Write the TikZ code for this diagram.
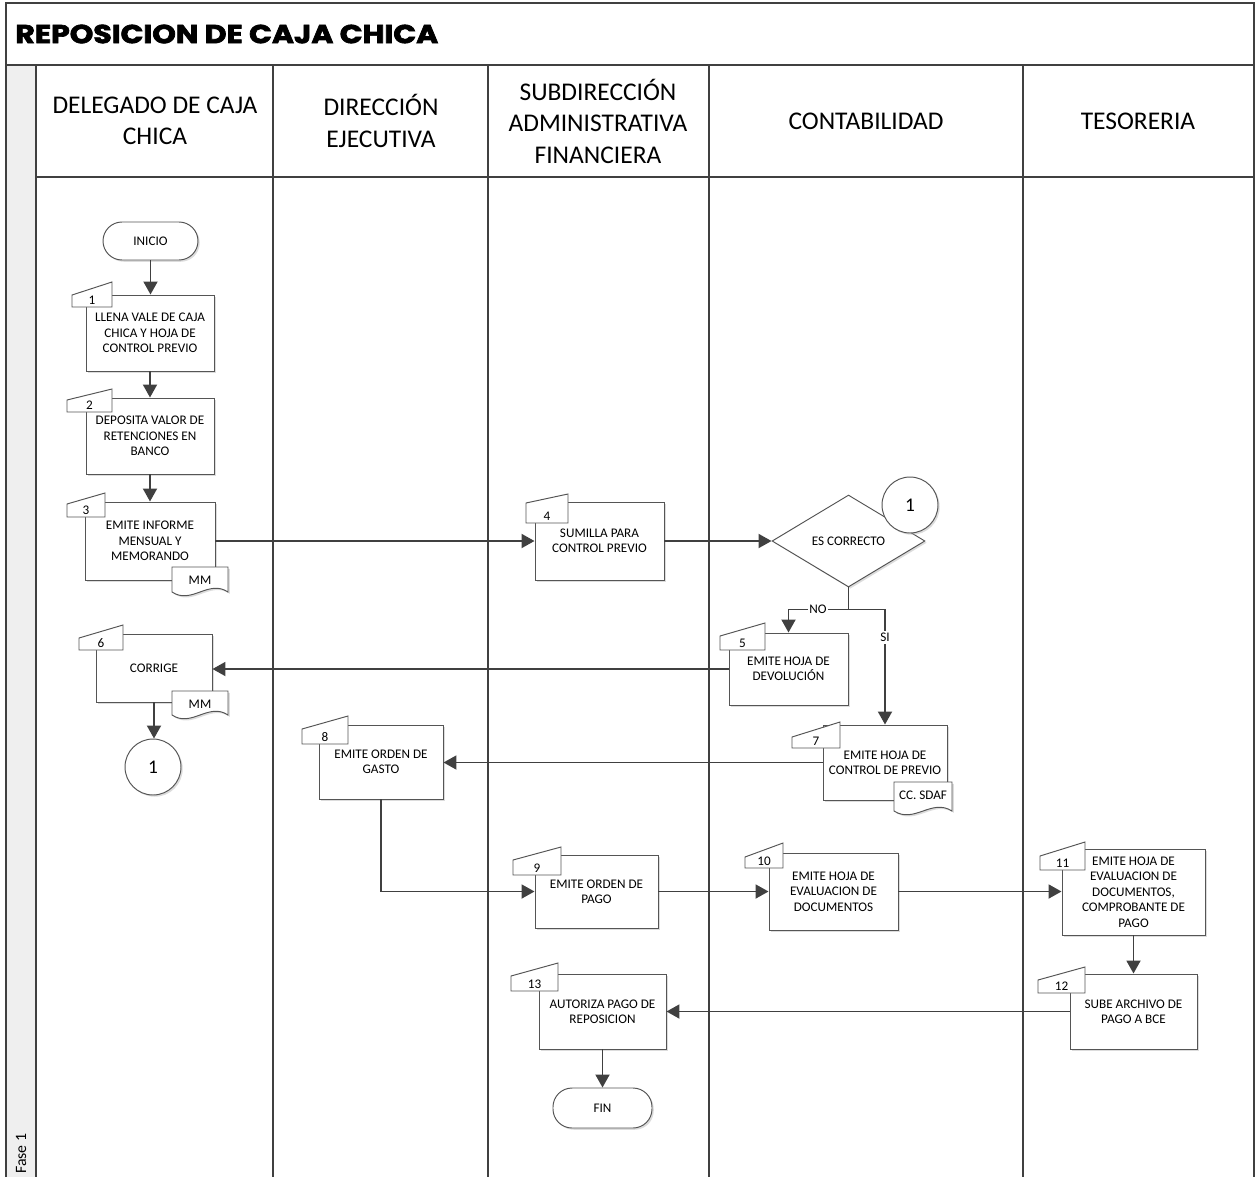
\documentclass[tikz,border=0pt]{standalone}
\usepackage{graphicx}
\usepackage{fontspec}
\setmainfont{Carlito}
\newfontfamily\titlefont{Poppins}[BoldFeatures={FakeBold=2.5}]
\usetikzlibrary{arrows.meta,shapes.geometric,shadows,calc}
\definecolor{linegray}{HTML}{404040}
\definecolor{boxgray}{HTML}{555555}
\definecolor{fasegray}{HTML}{EFEFEF}

% rectangular node from its corners: style, name, left, top, right, bottom, text
\newcommand{\boxnode}[7]{%
  \node[#1, minimum width={(#5-#3)*0.02cm}, minimum height={(#6-#4)*0.02cm}]
    (#2) at ({(#3+#5)/2},{(#4+#6)/2}) {#7};}
% numbered tab on the top-left corner of a step: name, x1, x2, y top-left, y top-right, y bottom, number
\newcommand{\steptab}[7]{%
  \draw[tabline] (#2,#4) -- (#3,#5) -- (#3,#6) -- (#2,#6) -- cycle;
  \node[tabnum] (#1) at ({(#2+#3)/2},{#6-6.5}) {#7};}
% document symbol with wavy bottom: name, left, top, right, bottom, text
\newcommand{\docnote}[6]{%
  \draw[docline] (#2,#3) -- (#4,#3) -- (#4,#5)
    .. controls ({#4-0.35*(#4-#2)},{#5-13}) and ({#2+0.35*(#4-#2)},{#5+13}) .. (#2,#5) -- cycle;
  \node[doctext] (#1) at ({(#2+#4)/2},{#3+13}) {#6};}

\begin{document}
\begin{tikzpicture}[x=0.02cm,y=-0.02cm,
  lane/.style={draw=linegray, line width=0.8pt},
  header/.style={align=center, font=\fontsize{14.5}{17.9}\selectfont, inner sep=0pt},
  softshadow/.style={drop shadow={shadow xshift=0.035cm, shadow yshift=-0.035cm, fill=black!30, opacity=0.45}},
  stepbox/.style={draw=boxgray, fill=white, line width=0.55pt, inner sep=0pt, align=center,
    font=\fontsize{7.5}{8.8}\selectfont, softshadow},
  term/.style={stepbox, rounded corners=0.38cm},
  decision/.style={diamond, draw=boxgray, fill=white, line width=0.55pt, inner sep=0pt,
    minimum width=3.06cm, minimum height=1.84cm, font=\fontsize{7.5}{8.8}\selectfont, softshadow},
  conncirc/.style={circle, draw=boxgray, fill=white, line width=0.55pt, minimum size=1.12cm,
    inner sep=0pt, font=\fontsize{11}{13}\selectfont, softshadow},
  tabline/.style={draw=boxgray, fill=white, line width=0.55pt},
  tabnum/.style={inner sep=0pt, font=\fontsize{7.5}{8.8}\selectfont},
  docline/.style={draw=boxgray, fill=white, line width=0.55pt, softshadow},
  doctext/.style={inner sep=0pt, font=\fontsize{7.5}{8.8}\selectfont},
  conn/.style={draw=linegray, line width=1.1pt, -{Triangle[length=0.26cm, width=0.28cm]}},
  plain/.style={draw=linegray, line width=1.1pt},
  branch/.style={fill=white, inner sep=1pt, font=\fontsize{7.5}{8.8}\selectfont}
]
\useasboundingbox (0,0) rectangle (1258,1177);

% swimlane frame
\fill[fasegray] (6,65) rectangle (36,1177);
\draw[lane] (6,1177) -- (6,3) -- (1254,3) -- (1254,1177);
\draw[lane] (6,65) -- (1254,65);
\draw[lane] (36,177) -- (1254,177);
\foreach \x in {36,273,488,709,1023} \draw[lane] (\x,65) -- (\x,1177);

\node[anchor=west, inner sep=0pt] (title) at (15,34)
  {\resizebox{8.46cm}{0.37cm}{\titlefont\bfseries REPOSICION DE CAJA CHICA}};

\node[header] (h1) at (155,121) {DELEGADO DE CAJA\\CHICA};
\node[header] (h2) at (381,121) {DIRECCIÓN\\EJECUTIVA};
\node[header] (h3) at (598,121) {SUBDIRECCIÓN\\ADMINISTRATIVA\\FINANCIERA};
\node[header] (h4) at (866,121) {CONTABILIDAD};
\node[header] (h5) at (1138,121) {TESORERIA};
\node[rotate=90, anchor=west, inner sep=0pt, font=\fontsize{9}{10}\selectfont] (fase) at (21,1174) {Fase 1};

% start and end
\boxnode{term}{ini}{103}{222}{198}{260}{INICIO}
\boxnode{term}{fin}{553}{1088}{652}{1128}{FIN}

% process steps
\boxnode{stepbox}{b1}{86}{295}{214}{371}{LLENA VALE DE CAJA\\CHICA Y HOJA DE\\CONTROL PREVIO}
\steptab{n1}{72}{112}{295}{282}{307}{1}
\boxnode{stepbox}{b2}{86}{398}{214}{474}{DEPOSITA VALOR DE\\RETENCIONES EN\\BANCO}
\steptab{n2}{67}{112}{400}{389}{412}{2}
\boxnode{stepbox}{b3}{85}{502}{215}{580}{EMITE INFORME\\MENSUAL Y\\MEMORANDO}
\steptab{n3}{67}{105}{504}{493}{517}{3}
\docnote{d3}{172}{567}{228}{592}{MM}
\boxnode{stepbox}{b4}{535}{502}{664}{580}{SUMILLA PARA\\CONTROL PREVIO}
\steptab{n4}{526}{568}{503}{494}{523}{4}
\node[decision] (dec) at (848.5,541) {ES CORRECTO};
\node[conncirc] (c2) at (910,505) {1};
\boxnode{stepbox}{b5}{729}{633}{848}{705}{EMITE HOJA DE\\DEVOLUCIÓN}
\steptab{n5}{720}{765}{636}{623}{650}{5}
\boxnode{stepbox}{b6}{96}{634}{212}{702}{CORRIGE}
\steptab{n6}{79}{123}{638}{625}{650}{6}
\docnote{d6}{172}{691}{228}{715}{MM}
\node[conncirc] (c1) at (153,767) {1};
\boxnode{stepbox}{b7}{823}{725}{947}{800}{EMITE HOJA DE\\CONTROL DE PREVIO}
\steptab{n7}{792}{840}{737}{722}{748}{7}
\docnote{d7}{894}{782}{952}{811}{CC. SDAF}
\boxnode{stepbox}{b8}{319}{725}{443}{799}{EMITE ORDEN DE\\GASTO}
\steptab{n8}{302}{348}{729}{716}{744}{8}
\boxnode{stepbox}{b9}{535}{855}{658}{928}{EMITE ORDEN DE\\PAGO}
\steptab{n9}{513}{561}{860}{847}{875}{9}
\boxnode{stepbox}{b10}{769}{853}{898}{930}{EMITE HOJA DE\\EVALUACION DE\\DOCUMENTOS}
\steptab{n10}{745}{783}{857}{843}{868}{10}
\boxnode{stepbox}{b11}{1062}{849}{1205}{935}{EMITE HOJA DE\\EVALUACION DE\\DOCUMENTOS,\\COMPROBANTE DE\\PAGO}
\steptab{n11}{1040}{1085}{856}{842}{870}{11}
\boxnode{stepbox}{b12}{1070}{974}{1197}{1049}{SUBE ARCHIVO DE\\PAGO A BCE}
\steptab{n12}{1038}{1085}{980}{967}{993}{12}
\boxnode{stepbox}{b13}{539}{974}{666}{1049}{AUTORIZA PAGO DE\\REPOSICION}
\steptab{n13}{511}{558}{976}{963}{991}{13}

% flow
\draw[conn] (ini.south) -- (ini.south |- b1.north);
\draw[conn] (b1.south) -- (b1.south |- b2.north);
\draw[conn] (b2.south) -- (b2.south |- b3.north);
\draw[conn] (b3.east) -- (b3.east -| b4.west);
\draw[conn] (b4.east) -- (dec.west);
\coordinate (split) at ($(dec.south)+(0,22)$);
\draw[plain] (dec.south) -- (split);
\draw[conn] (split) -| (b5.north);
\draw[conn] (split) -| (b7.north);
\node[branch] (no) at (818,609) {NO};
\node[branch] (si) at ($(b7.north)+(0,-87)$) {SI};
\draw[conn] (b5.west) -- (b5.west -| b6.east);
\draw[conn] (b6.south) -- (b6.south |- c1.north);
\draw[conn] (b7.west) -- (b7.west -| b8.east);
\draw[conn] (b8.south) |- (b9.west);
\draw[conn] (b9.east) -- (b9.east -| b10.west);
\draw[conn] (b10.east) -- (b10.east -| b11.west);
\draw[conn] (b11.south) -- (b11.south |- b12.north);
\draw[conn] (b12.west) -- (b12.west -| b13.east);
\draw[conn] (b13.south) -- (b13.south |- fin.north);
\end{tikzpicture}
\end{document}
